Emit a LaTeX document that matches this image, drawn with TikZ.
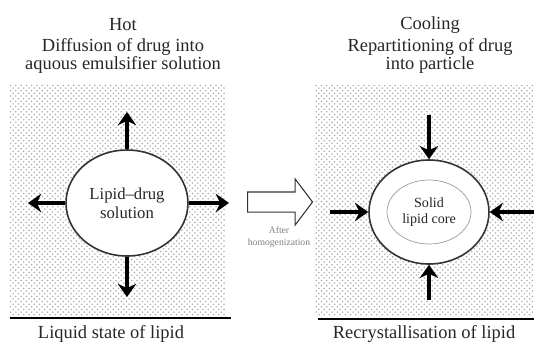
\documentclass[tikz,border=0pt]{standalone}
\usepackage{fontspec}
\setmainfont{Liberation Serif}
\usetikzlibrary{arrows.meta,shapes.geometric,shapes.arrows,patterns,positioning}

\begin{document}
\begin{tikzpicture}[x=0.02cm,y=-0.02cm,
	  every node/.style={font=\fontsize{10.5}{10.2}\selectfont,text=black!85},
	  push/.style={line width=2pt,-{Stealth[length=7.5pt,width=10.5pt]}},
	  drop/.style={ellipse,draw=black!80,line width=0.9pt,fill=white,inner sep=0pt,align=center}]
	  \useasboundingbox (0,0) rectangle (534,349);
	  % dotted backgrounds and base lines
	  \fill [pattern=crosshatch dots,pattern color=gray!65] (10,84) rectangle (226,316);
	  \fill [pattern=crosshatch dots,pattern color=gray!65] (314,85) rectangle (534,316);
	  \draw [line width=0.8pt] (10,318) -- (231,318) (318,319) -- (534,319);
	  % hot side
	  \node at (123,25) (hotT) {Hot};
	  \node [align=center] at (123,56) (hotS) {Diffusion of drug into\\aquous emulsifier solution};
	  \node [drop,minimum width=2.44cm,minimum height=2.12cm,font=\fontsize{9.5}{11}\selectfont] at (127,203) (hot) {Lipid--drug\\solution};
	  \coordinate (hN) at (127,112);
	  \coordinate (hS) at (127,297);
	  \coordinate (hW) at (28,203);
	  \coordinate (hE) at (229,203);
	  \foreach \a/\c in {north/hN, south/hS, west/hW, east/hE}{
	  	\draw [push] (hot.\a) -- (\c);
	  }
	  \node at (111,334) (hotB) {Liquid state of lipid};
	  % step between
	  \node [single arrow,draw=black!80,line width=0.6pt,inner sep=0pt,minimum height=1.3cm,text height=0.38cm,text depth=0pt,
	  	single arrow head extend=0.26cm,single arrow tip angle=106,anchor=tail] at (247,202) (step) {};
	  \node [align=center,text=gray,font=\fontsize{5.5}{6.5}\selectfont] at (279,237) (after) {After\\homogenization};
	  % cooling side
	  \node at (430,25) (coolT) {Cooling};
	  \node [align=center] at (430,56) (coolS) {Repartitioning of drug\\into particle};
	  \node [drop,minimum width=2.4cm,minimum height=2.08cm] at (429,212) (cool) {};
	  \node [ellipse,draw=violet!20!gray!70,thin,minimum width=1.68cm,minimum height=1.28cm,inner sep=0pt,align=center,font=\fontsize{8}{9.5}\selectfont] at (cool) (core) {Solid\\lipid core};
	  \coordinate (cN) at (429,115);
	  \coordinate (cS) at (429,300);
	  \coordinate (cW) at (330,212);
	  \coordinate (cE) at (534,212);
	  \foreach \a/\c in {north/cN, south/cS, west/cW, east/cE}{
	  	\draw [push] (\c) -- (cool.\a);
	  }
	  \node at (424,334) (coolB) {Recrystallisation of lipid};
\end{tikzpicture}
\end{document}
